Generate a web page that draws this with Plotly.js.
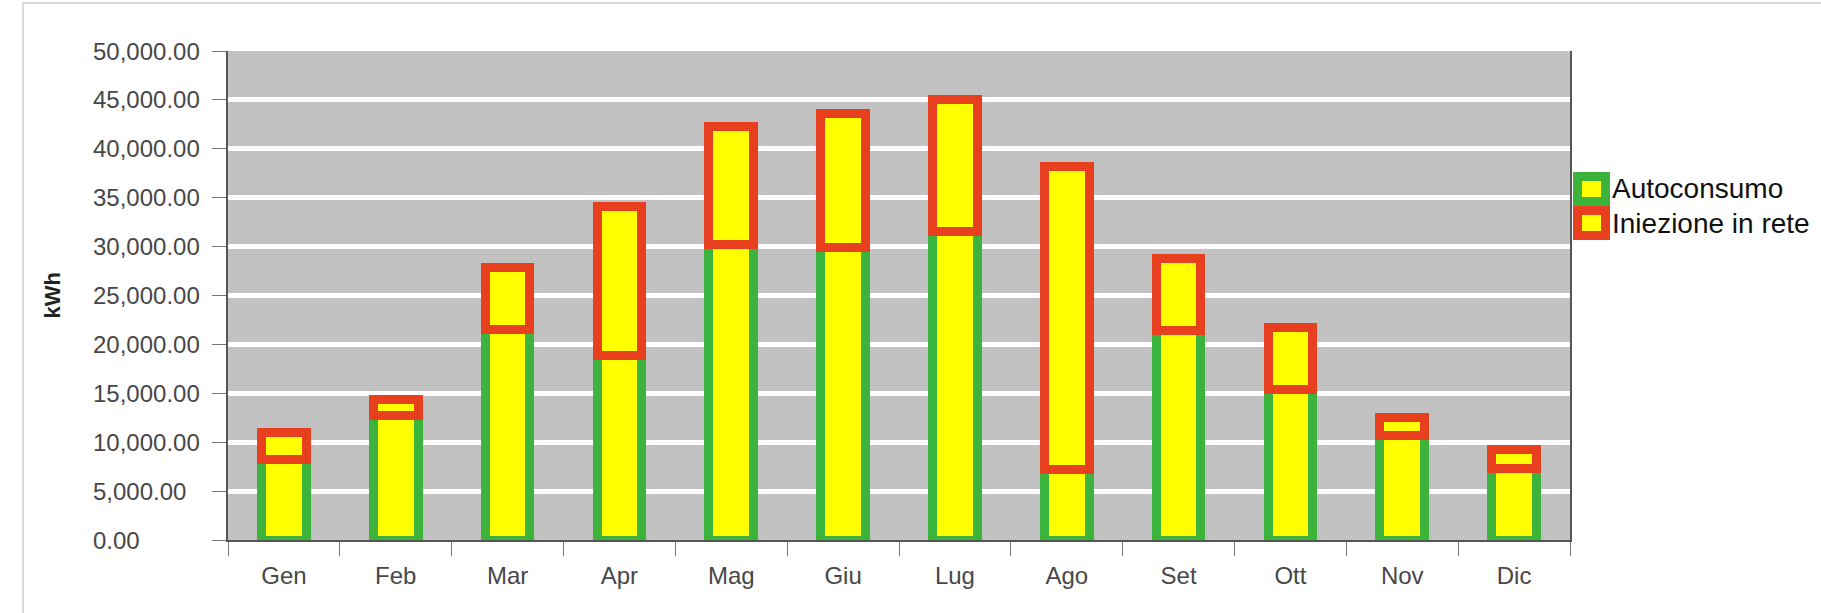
<!DOCTYPE html>
<html>
<head>
<meta charset="utf-8">
<script src="https://cdn.plot.ly/plotly-3.0.1.min.js"></script>
<style>
  html, body { margin: 0; padding: 0; background: #ffffff; }
  #wrap { position: relative; width: 1821px; height: 613px; overflow: hidden; }
  #chart { position: absolute; left: 0; top: 0; width: 1821px; height: 613px; }
  #frame { position: absolute; left: 22px; top: 2px; width: 1900px; height: 700px;
           border-left: 2px solid #d9d9d9; border-top: 2px solid #d9d9d9; pointer-events: none; }
</style>
</head>
<body>
<div id="wrap">
  <div id="chart"></div>
  <div id="frame"></div>
</div>
<script>
// ---- data ----
const months = ["Gen", "Feb", "Mar", "Apr", "Mag", "Giu", "Lug", "Ago", "Set", "Ott", "Nov", "Dic"];
const autoconsumo = [8200, 12700, 21500, 18900, 30200, 29900, 31500, 7200, 21400, 15400, 10700, 7300];
const iniezione   = [2800, 1700, 6400, 15200, 12100, 13700, 13500, 31000, 7400, 6300, 1800, 2000];
const seriesNames = ["Autoconsumo", "Iniezione in rete"];
const yTickVals = [0, 5000, 10000, 15000, 20000, 25000, 30000, 35000, 40000, 45000, 50000];
const yTitle = "kWh";

// ---- styles ----
const FONT = "Liberation Sans, Arial, sans-serif";
const YELLOW = "#ffff00";
const GREEN = "#3cb43c";
const RED = "#e8401e";
const lineColors = [GREEN, RED];

const traces = [
  { type: "bar", name: seriesNames[0], x: months, y: autoconsumo,
    marker: { color: YELLOW, line: { color: GREEN, width: 9 } }, showlegend: false, hoverinfo: "x+y+name" },
  { type: "bar", name: seriesNames[1], x: months, y: iniezione,
    marker: { color: YELLOW, line: { color: RED, width: 9 } }, showlegend: false, hoverinfo: "x+y+name" }
];

const fmt = v => v.toLocaleString("en-US", { minimumFractionDigits: 2, maximumFractionDigits: 2 });

const annotations = [];
// left-aligned y tick labels
yTickVals.forEach(v => {
  annotations.push({
    xref: "paper", yref: "y", x: (93 - 228) / 1342, y: v, xanchor: "left", yanchor: "middle",
    text: fmt(v), showarrow: false, borderpad: 0, borderwidth: 0,
    font: { family: FONT, size: 24, color: "#474747" }
  });
});
// y axis title
annotations.push({
  xref: "paper", yref: "paper", x: (52 - 228) / 1342, y: 0.5, xanchor: "center", yanchor: "middle",
  text: "<b>" + yTitle + "</b>", textangle: -90, showarrow: false,
  font: { family: FONT, size: 22, color: "#222" }
});
// legend (swatches + labels)
const legendY = [(540 - 188.5) / 489, (540 - 223.5) / 489];
seriesNames.forEach((name, i) => {
  annotations.push({
    xref: "paper", yref: "paper", x: (1591.5 - 228) / 1342, y: legendY[i], xanchor: "center", yanchor: "middle",
    text: " ", width: 19, height: 16, showarrow: false, borderpad: 0, borderwidth: 9,
    bgcolor: YELLOW, bordercolor: lineColors[i], font: { size: 10 }
  });
  annotations.push({
    xref: "paper", yref: "paper", x: (1612 - 228) / 1342, y: legendY[i], xanchor: "left", yanchor: "middle",
    text: name, showarrow: false, borderpad: 0, borderwidth: 0,
    font: { family: FONT, size: 28, color: "#111" }
  });
});

const layout = {
  width: 1821, height: 613,
  margin: { l: 228, r: 251, t: 51, b: 73 },
  paper_bgcolor: "rgba(0,0,0,0)",
  plot_bgcolor: "#c2c2c2",
  barmode: "stack",
  bargap: 0.6,
  showlegend: false,
  xaxis: {
    type: "category", categoryorder: "array", categoryarray: months,
    tickson: "boundaries", ticks: "outside", ticklen: 14, tickwidth: 1, tickcolor: "#777",
    ticklabelstandoff: 13,
    showline: true, linecolor: "#555", linewidth: 2, showgrid: false, zeroline: false,
    tickfont: { family: FONT, size: 24, color: "#474747" }
  },
  yaxis: {
    range: [0, 50000], tickmode: "array", tickvals: yTickVals, showticklabels: false,
    ticks: "outside", ticklen: 14, tickwidth: 1, tickcolor: "#777",
    showline: true, linecolor: "#555", linewidth: 2, mirror: true,
    showgrid: true, gridcolor: "#ffffff", gridwidth: 5, zeroline: false
  },
  annotations: annotations
};

Plotly.newPlot("chart", traces, layout, { displayModeBar: false, staticPlot: true });
</script>
</body>
</html>
